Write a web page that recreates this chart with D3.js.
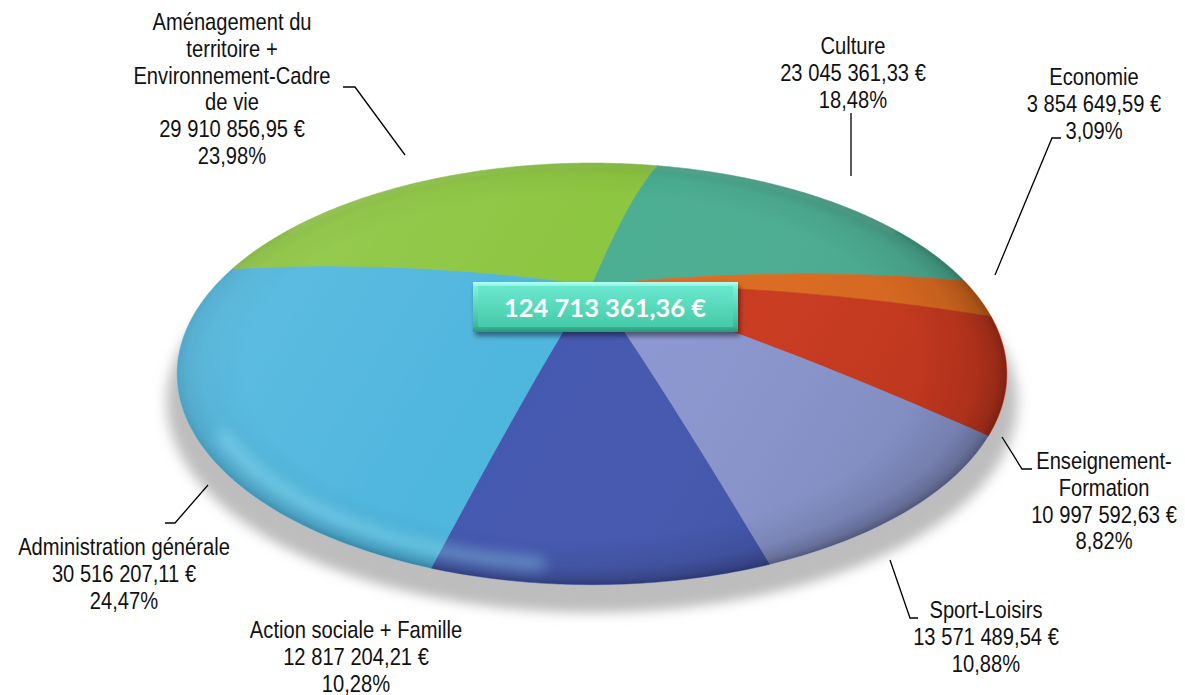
<!DOCTYPE html>
<html>
<head>
<meta charset="utf-8">
<script src="https://cdn.jsdelivr.net/npm/d3@7/dist/d3.min.js"></script>
<style>
  body { margin: 0; background: #fff; }
  svg { display: block; }
</style>
</head>
<body>
<div class="content"></div>
<script>
// data, in Excel's series order (alphabetical)
var categories = ["Action sociale + Famille",
                  "Administration générale",
                  "Aménagement du\nterritoire +\nEnvironnement-Cadre\nde vie",
                  "Culture",
                  "Economie",
                  "Enseignement-\nFormation",
                  "Sport-Loisirs"];
var amounts = [12817204.21, 30516207.11, 29910856.95, 23045361.33, 3854649.59, 10997592.63, 13571489.54];
var colors = ["#4558b0", "#4fb6de", "#8dc641", "#4bae92", "#de6b1f", "#cc3a1f", "#8b97d0"];

var firstSliceAngle = 160.5; // degrees, clockwise from 12 o'clock

// label layout (first baseline, centre x) and leader lines
var labelPos = [[356, 638], [124, 555], [232, 30], [853, 54], [1094, 85], [1104, 469], [986, 618]];
var leaders = [null,
               [[208, 485], [175, 523], [165, 523]],
               [[405, 155], [355, 87], [343, 87]],
               [[851, 176], [851, 113]],
               [[995, 275], [1052, 138], [1061, 138]],
               [[1002, 437], [1022, 469], [1032, 469]],
               [[890, 560], [910, 618], [918, 618]]];

var W = 1185, H = 695;
var fr = d3.formatLocale({decimal: ",", thousands: " ", grouping: [3], currency: ["", " €"], percent: "%"});
var fmtMoney = fr.format("$,.2f");
var fmtPct = fr.format(".2%");
var total = d3.sum(amounts);

// perspective projection of the tilted disc (slightly domed surface)
var CX = 592, CY = 318, B = 400, A = 196, K = 0.265, L = 33;
function proj(r, t) {
  var u = r * Math.sin(t), v = r * Math.cos(t), den = 1 + K * v;
  return [CX + B * u / den, CY - A * v / den - L * (1 - r * r)];
}

var start = firstSliceAngle * Math.PI / 180;
var pie = d3.pie().sort(null).value(function(d) { return d; })
  .startAngle(start).endAngle(start + 2 * Math.PI);
var arcs = pie(amounts);

var line = d3.line();
function slicePath(d) {
  var pts = [], i, n = 24;
  for (i = 0; i <= n; i++) pts.push(proj(i / n, d.startAngle));
  var steps = Math.max(2, Math.ceil((d.endAngle - d.startAngle) / 0.01));
  for (i = 0; i <= steps; i++) pts.push(proj(1, d.startAngle + (d.endAngle - d.startAngle) * i / steps));
  for (i = n; i >= 0; i--) pts.push(proj(i / n, d.endAngle));
  return line(pts) + "Z";
}
function rimPath(a0, a1, r) {
  var pts = [], steps = 200;
  for (var i = 0; i <= steps; i++) pts.push(proj(r, a0 + (a1 - a0) * i / steps));
  return line(pts);
}
var outline = rimPath(0, 2 * Math.PI, 1) + "Z";
var deg = Math.PI / 180;

var svg = d3.select(".content").append("svg")
  .attr("width", W).attr("height", H);

var defs = svg.append("defs");
defs.append("filter").attr("id", "blurShadow")
  .attr("filterUnits", "userSpaceOnUse")
  .attr("x", 100).attr("y", 100).attr("width", 1000).attr("height", 595)
  .append("feGaussianBlur").attr("stdDeviation", 6);
defs.append("filter").attr("id", "blurSoft")
  .attr("x", "-30%").attr("y", "-50%").attr("width", "160%").attr("height", "200%")
  .append("feGaussianBlur").attr("stdDeviation", 7);
defs.append("filter").attr("id", "blurBox")
  .attr("x", "-10%").attr("y", "-40%").attr("width", "120%").attr("height", "180%")
  .append("feGaussianBlur").attr("stdDeviation", 2.5);
defs.append("clipPath").attr("id", "discClip").append("path").attr("d", outline);

var rg = defs.append("radialGradient").attr("id", "rimShade")
  .attr("cx", 0.5).attr("cy", 0.5).attr("r", 0.5).attr("fx", 0.44).attr("fy", 0.4);
[[0, 0], [0.82, 0], [0.93, 0.1], [0.978, 0.26], [1, 0.45]].forEach(function(s) {
  rg.append("stop").attr("offset", s[0]).attr("stop-color", "#000").attr("stop-opacity", s[1]);
});
var lg = defs.append("linearGradient").attr("id", "sideShade")
  .attr("x1", 0).attr("y1", 0).attr("x2", 1).attr("y2", 0.3);
lg.append("stop").attr("offset", 0).attr("stop-color", "#fff").attr("stop-opacity", 0.12);
lg.append("stop").attr("offset", 0.5).attr("stop-color", "#fff").attr("stop-opacity", 0);
lg.append("stop").attr("offset", 1).attr("stop-color", "#000").attr("stop-opacity", 0.08);
var mg = defs.append("linearGradient").attr("id", "maskGrad")
  .attr("x1", 0.25).attr("y1", 0.2).attr("x2", 0.85).attr("y2", 0.9);
mg.append("stop").attr("offset", 0).attr("stop-color", "#fff").attr("stop-opacity", 0.1);
mg.append("stop").attr("offset", 1).attr("stop-color", "#fff").attr("stop-opacity", 1);
defs.append("mask").attr("id", "rimMask").attr("maskContentUnits", "userSpaceOnUse")
  .append("rect").attr("x", 0).attr("y", 0).attr("width", W).attr("height", H)
  .attr("fill", "url(#maskGrad)");

var bg = defs.append("linearGradient").attr("id", "boxOuter").attr("x1", 0).attr("y1", 0).attr("x2", 0).attr("y2", 1);
[[0, "#b2fff7"], [0.12, "#7af0d9"], [0.85, "#3dbd9e"], [1, "#2b977d"]].forEach(function(s) {
  bg.append("stop").attr("offset", s[0]).attr("stop-color", s[1]);
});
var bi = defs.append("linearGradient").attr("id", "boxInner").attr("x1", 0).attr("y1", 0).attr("x2", 0).attr("y2", 1);
[[0, "#6ae8ce"], [1, "#46caa8"]].forEach(function(s) {
  bi.append("stop").attr("offset", s[0]).attr("stop-color", s[1]);
});

// shadow under the disc
svg.append("path")
  .attr("d", outline)
  .attr("transform", "translate(" + CX + ",28) scale(1.025,1) translate(" + (-CX) + ",0)")
  .attr("fill", "#bdbdbd")
  .attr("filter", "url(#blurShadow)");

// slices
var disc = svg.append("g");
disc.selectAll("path.slice")
  .data(arcs)
  .enter().append("path")
  .attr("class", "slice")
  .attr("d", slicePath)
  .attr("fill", function(d, i) { return colors[i]; })
  .attr("stroke", function(d, i) { return colors[i]; })
  .attr("stroke-width", 0.6);

// shading on the surface
var shade = disc.append("g").attr("clip-path", "url(#discClip)");
shade.append("path").attr("d", outline).attr("fill", "url(#sideShade)");
shade.append("path").attr("d", outline).attr("fill", "url(#rimShade)").attr("mask", "url(#rimMask)");
shade.append("path")
  .attr("d", rimPath(186 * deg, 236 * deg, 0.955))
  .attr("fill", "none").attr("stroke", "#a8f6ff").attr("stroke-width", 14)
  .attr("stroke-linecap", "round").attr("opacity", 0.35).attr("filter", "url(#blurSoft)");
shade.append("path")
  .attr("d", rimPath(300 * deg, 420 * deg, 0.99))
  .attr("fill", "none").attr("stroke", "#ffffff").attr("stroke-width", 3)
  .attr("opacity", 0.2).attr("filter", "url(#blurBox)");

// leader lines
svg.selectAll("path.leader")
  .data(leaders.filter(function(d) { return d; }))
  .enter().append("path")
  .attr("class", "leader")
  .attr("d", function(d) { return line(d); })
  .attr("fill", "none").attr("stroke", "#000").attr("stroke-width", 1.3);

// data labels
var lbl = svg.selectAll("g.label")
  .data(arcs)
  .enter().append("g")
  .attr("class", "label")
  .attr("transform", function(d, i) {
    return "translate(" + labelPos[i][0] + "," + labelPos[i][1] + ") scale(0.84,1)";
  });
lbl.append("text")
  .attr("text-anchor", "middle")
  .style("font-family", "'Liberation Sans', Arial, sans-serif")
  .style("font-size", "24px")
  .attr("fill", "#111")
  .each(function(d, i) {
    var rows = categories[i].split("\n").concat([fmtMoney(d.value), fmtPct(d.value / total)]);
    d3.select(this).selectAll("tspan").data(rows).enter().append("tspan")
      .attr("x", 0).attr("y", function(r, j) { return j * 26.8; })
      .text(function(r) { return r; });
  });

// total box in the middle
var box = svg.append("g").attr("transform", "translate(473,282)");
box.append("rect").attr("x", 2).attr("y", 4).attr("width", 265).attr("height", 50)
  .attr("fill", "rgba(0,0,0,0.45)").attr("filter", "url(#blurBox)");
box.append("rect").attr("width", 265).attr("height", 50).attr("fill", "url(#boxOuter)");
box.append("rect").attr("x", 5).attr("y", 4).attr("width", 255).attr("height", 41).attr("fill", "url(#boxInner)");
box.append("text")
  .attr("transform", "translate(132,35)")
  .attr("text-anchor", "middle")
  .style("font-family", "Lato, 'Open Sans', sans-serif")
  .style("font-weight", "bold")
  .style("font-size", "25.5px")
  .attr("fill", "#fff")
  .text(fmtMoney(total));
</script>
</body>
</html>
